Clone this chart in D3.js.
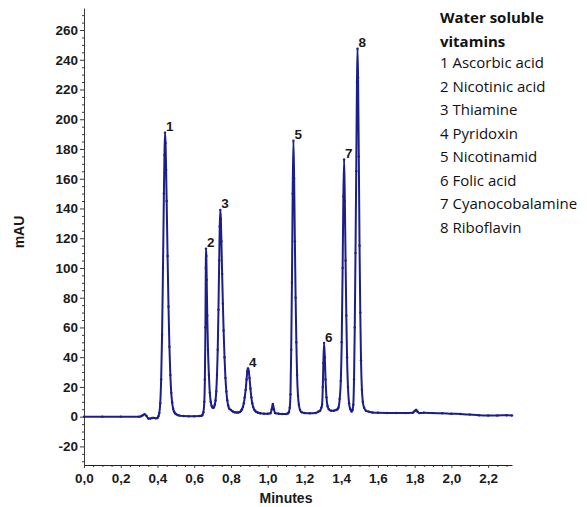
<!DOCTYPE html>
<html>
<head>
<meta charset="utf-8">
<script src="https://cdn.jsdelivr.net/npm/d3@7"></script>
<style>
  html, body { margin: 0; padding: 0; background: #fff; }
  svg { display: block; }
</style>
</head>
<body>
<script>
// ---- Data ----
const times = [
  0.00, 0.10, 0.20, 0.30, 0.31, 0.32, 0.33, 0.34, 0.35, 0.36, 0.37, 0.38, 0.39, 0.40, 0.405,
  0.410, 0.415, 0.420, 0.425, 0.430, 0.435, 0.438, 0.441, 0.444, 0.447, 0.450, 0.455, 0.460, 0.465, 0.470, 0.475, 0.480, 0.485, 0.490, 0.495, 0.500, 0.510, 0.520, 0.540, 0.570, 0.600, 0.630,
  0.640, 0.645, 0.650, 0.655, 0.658, 0.661, 0.663, 0.664, 0.666, 0.668, 0.671, 0.675, 0.680, 0.685, 0.690, 0.695, 0.700, 0.704,
  0.708, 0.712, 0.716, 0.720, 0.724, 0.728, 0.732, 0.736, 0.739, 0.742, 0.745, 0.748, 0.752, 0.756, 0.760, 0.765, 0.770, 0.775, 0.780, 0.785, 0.790, 0.800, 0.810, 0.820, 0.830, 0.840, 0.850,
  0.855, 0.860, 0.865, 0.870, 0.875, 0.880, 0.885, 0.889, 0.893, 0.897, 0.901, 0.906, 0.911, 0.916, 0.921, 0.928, 0.935, 0.945, 0.960, 0.980, 1.000,
  1.015, 1.022, 1.028, 1.034, 1.040, 1.060, 1.080, 1.100, 1.110,
  1.115, 1.120, 1.124, 1.128, 1.132, 1.136, 1.140, 1.144, 1.148, 1.152, 1.156, 1.160, 1.165, 1.170, 1.176, 1.185, 1.200, 1.230, 1.260, 1.275, 1.285, 1.292,
  1.296, 1.300, 1.303, 1.307, 1.311, 1.315, 1.320, 1.326, 1.333, 1.345, 1.360, 1.372,
  1.380, 1.385, 1.392, 1.398, 1.403, 1.408, 1.412, 1.416, 1.420, 1.424, 1.428, 1.432, 1.437, 1.443, 1.450, 1.457, 1.462,
  1.466, 1.470, 1.474, 1.478, 1.482, 1.486, 1.489, 1.492, 1.496, 1.500, 1.504, 1.508, 1.513, 1.518, 1.525, 1.535, 1.550, 1.570, 1.600, 1.650, 1.700, 1.750, 1.790,
  1.800, 1.808, 1.815, 1.825, 1.850, 1.900, 1.950, 2.000, 2.050, 2.100, 2.150, 2.200, 2.250, 2.300, 2.330
];
const mAU = [
  0, 0, 0, 0, 0.2, 1.0, 1.7, 0.5, -1.2, -1.3, -0.9, -0.8, -1.1, -0.9, 0.3,
  2.5, 9, 25, 55, 100, 150, 176, 191, 184, 166, 145, 108, 74, 47, 28, 16, 9.5, 5.5, 3.5, 2.4, 1.8, 1.1, 0.7, 0.4, 0.3, 0.3, 0.4,
  0.6, 1.2, 3, 10, 25, 60, 100, 113, 108, 92, 68, 45, 28, 16, 10, 7.2, 6.2, 6,
  6.5, 8, 11, 17, 28, 45, 72, 105, 128, 139, 133, 118, 96, 76, 58, 40, 26, 17, 11, 7.5, 5.5, 4.5, 3.5, 3, 2.8, 2.8, 3.2,
  4, 5, 6.5, 9, 13, 18, 25, 30.5, 32.5, 30.5, 26, 19, 13, 9, 6.5, 4.5, 3.5, 2.8, 2.3, 2.0, 2.0,
  2.3, 5, 8.5, 5, 2.5, 2, 1.8, 1.8, 2.2,
  3, 6, 15, 45, 90, 150, 185.5, 160, 118, 80, 50, 28, 14, 8, 4.5, 3, 2.5, 2.3, 2.5, 3.3, 4, 6,
  8, 20, 36, 49.5, 40, 25, 13, 7, 5, 4, 4, 4.5,
  5, 6, 12, 24, 50, 100, 148, 173, 145, 105, 68, 40, 20, 9, 5, 3.5, 4.5,
  8, 25, 60, 110, 165, 225, 247.5, 228, 175, 115, 70, 38, 18, 10, 6, 4, 3.4, 2.8, 2.6, 2.5, 2.5, 2.4, 2.6,
  3.8, 4.6, 3.5, 2.4, 2.6, 2.4, 2.3, 2.0, 1.8, 1.4, 1.0, 0.8, 0.8, 1.0, 0.8
];

const peakLabels = ["1", "2", "3", "4", "5", "6", "7", "8"];
const peakTimes  = [0.441, 0.664, 0.742, 0.893, 1.140, 1.307, 1.416, 1.489];

const xTickValues = [0.0, 0.2, 0.4, 0.6, 0.8, 1.0, 1.2, 1.4, 1.6, 1.8, 2.0, 2.2];
const yTickValues = [-20, 0, 20, 40, 60, 80, 100, 120, 140, 160, 180, 200, 220, 240, 260];

const legendTitle = ["Water soluble", "vitamins"];
const legendItems = ["1 Ascorbic acid", "2 Nicotinic acid", "3 Thiamine", "4 Pyridoxin",
                     "5 Nicotinamid", "6 Folic acid", "7 Cyanocobalamine", "8 Riboflavin"];

const xTitle = "Minutes";
const yTitle = "mAU";

// ---- Layout ----
const W = 587, H = 507;
const lineColor = "#1c1f8a";
const axisColor = "#3a3a3a";
const tickFont = "'Liberation Sans', Arial, Helvetica, sans-serif";

const svg = d3.select("body").append("svg").attr("width", W).attr("height", H);

const x = d3.scaleLinear().domain([0, 2.33]).range([84, 512]);
const y = d3.scaleLinear().domain([-32.5, 274.8]).range([465, 8]);

const data = times.map((t, i) => ({ t, v: mAU[i] }));

// Minor ticks
const yMinor = d3.range(-30, 275, 5).filter(v => v % 20 !== 0);
const xMinor = d3.range(0, 2.331, 0.05).filter(v => Math.abs(v * 5 - Math.round(v * 5)) > 1e-6);

svg.append("g")
  .attr("transform", `translate(${x.range()[0]},0)`)
  .call(d3.axisLeft(y).tickValues(yMinor).tickSize(2).tickFormat(""))
  .call(g => g.select(".domain").remove())
  .call(g => g.selectAll("line").attr("stroke", axisColor));

svg.append("g")
  .attr("transform", `translate(0,${y.range()[0]})`)
  .call(d3.axisBottom(x).tickValues(xMinor).tickSize(2).tickFormat(""))
  .call(g => g.select(".domain").remove())
  .call(g => g.selectAll("line").attr("stroke", axisColor));

// Major axes
const yAxis = svg.append("g")
  .attr("transform", `translate(${x.range()[0]},0)`)
  .call(d3.axisLeft(y).tickValues(yTickValues).tickSize(4).tickSizeOuter(0).tickPadding(2)
        .tickFormat(d => String(d)));
yAxis.select(".domain").attr("stroke", axisColor);
yAxis.selectAll("line").attr("stroke", axisColor);
yAxis.selectAll("text")
  .attr("fill", "#1a1a1a")
  .style("font-family", tickFont).style("font-weight", "bold").style("font-size", "13.5px");

const xAxis = svg.append("g")
  .attr("transform", `translate(0,${y.range()[0]})`)
  .call(d3.axisBottom(x).tickValues(xTickValues).tickSize(3).tickSizeOuter(0).tickPadding(5)
        .tickFormat(d => d3.format(".1f")(d).replace(".", ",")));
xAxis.select(".domain").attr("stroke", "#222");
xAxis.selectAll("line").attr("stroke", axisColor);
xAxis.selectAll("text")
  .attr("fill", "#1a1a1a")
  .style("font-family", tickFont).style("font-weight", "bold").style("font-size", "13.5px");

// Axis titles
svg.append("text")
  .attr("x", 286).attr("y", 503)
  .attr("text-anchor", "middle")
  .attr("fill", "#1a1a1a")
  .style("font-family", tickFont).style("font-weight", "bold").style("font-size", "14px")
  .text(xTitle);

svg.append("text")
  .attr("transform", "translate(24,232) rotate(-90)")
  .attr("text-anchor", "middle")
  .attr("fill", "#1a1a1a")
  .style("font-family", tickFont).style("font-weight", "bold").style("font-size", "14px")
  .text(yTitle);

// Chromatogram line
const line = d3.line().x(d => x(d.t)).y(d => y(d.v)).curve(d3.curveMonotoneX);
svg.append("path")
  .datum(data)
  .attr("fill", "none")
  .attr("stroke", lineColor)
  .attr("stroke-width", 2)
  .attr("stroke-linejoin", "round")
  .attr("d", line);

svg.append("g").selectAll("circle")
  .data(data)
  .join("circle")
  .attr("cx", d => x(d.t)).attr("cy", d => y(d.v))
  .attr("r", 1.2)
  .attr("fill", lineColor);

// Peak labels
const bis = d3.bisector(d => d.t).left;
svg.append("g").selectAll("text")
  .data(peakLabels)
  .join("text")
  .attr("x", (d, i) => x(peakTimes[i]) + 1)
  .attr("y", (d, i) => {
    const k = Math.min(bis(data, peakTimes[i] - 1e-9), data.length - 1);
    return y(data[k].v) - 1.5;
  })
  .attr("fill", "#1a1a1a")
  .style("font-family", tickFont).style("font-weight", "bold").style("font-size", "13.5px")
  .text(d => d);

// Legend
const legendFont = "'Open Sans', 'Noto Sans', sans-serif";
const lg = svg.append("g");
lg.selectAll("text.title")
  .data(legendTitle)
  .join("text")
  .attr("class", "title")
  .attr("x", 440).attr("y", (d, i) => 23 + i * 23.5)
  .attr("fill", "#111")
  .style("font-family", legendFont).style("font-weight", "bold").style("font-size", "15px")
  .text(d => d);
lg.selectAll("text.item")
  .data(legendItems)
  .join("text")
  .attr("class", "item")
  .attr("x", 440).attr("y", (d, i) => 68 + i * 23.5)
  .attr("fill", "#111")
  .style("font-family", legendFont).style("font-size", "15px")
  .text(d => d);
</script>
</body>
</html>
